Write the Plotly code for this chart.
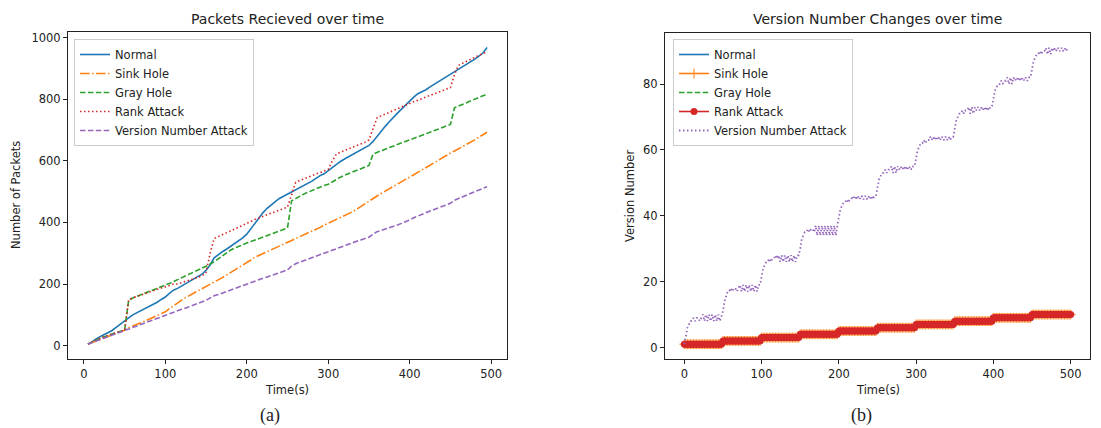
import plotly.graph_objects as go

W, H = 1101, 428
OFF = 8  # page body margin offset

# ---------------- Data: left chart (Packets received) ----------------
time_a = list(range(5, 496, 5))
normal_pk = [5, 12, 22, 30, 36, 43, 50, 60, 71, 80, 90, 100, 107, 114, 121, 127, 133, 141, 150, 158,
             170, 180, 186, 194, 202, 209, 216, 224, 232, 245, 262, 285, 296, 305, 313, 322, 331, 340, 350, 362,
             380, 400, 417, 432, 446, 458, 468, 478, 485, 492, 499, 505, 512, 519, 526, 534, 543, 552, 558, 568,
             580, 590, 598, 606, 613, 620, 628, 636, 643, 650, 663, 680, 696, 712, 727, 742, 755, 768, 782, 795,
             807, 818, 824, 831, 840, 848, 856, 866, 873, 880, 888, 898, 906, 914, 922, 930, 940, 950, 968]
sink_pk = [5, 10, 15, 20, 25, 30, 35, 40, 45, 50, 58, 63, 68, 74, 80, 86, 92, 98, 104, 110,
           120, 130, 140, 148, 156, 164, 171, 178, 185, 192, 198, 205, 213, 221, 229, 237, 245, 253, 260, 268,
           278, 287, 293, 298, 304, 310, 316, 322, 328, 334, 340, 346, 352, 358, 364, 370, 377, 384, 391, 398,
           404, 410, 416, 422, 428, 435, 443, 452, 461, 470, 478, 486, 494, 502, 510, 518, 526, 533, 540, 547,
           555, 563, 571, 579, 587, 595, 602, 609, 617, 625, 632, 639, 646, 653, 660, 668, 677, 685, 693]
gray_pk = [5, 12, 18, 24, 29, 34, 39, 43, 47, 50, 148, 155, 160, 165, 170, 175, 180, 185, 190, 195,
           202, 208, 214, 220, 227, 233, 240, 246, 252, 258, 265, 272, 282, 292, 300, 310, 317, 323, 328, 333,
           338, 343, 348, 353, 358, 363, 367, 372, 377, 382, 470, 478, 485, 492, 498, 504, 510, 516, 520, 524,
           532, 540, 547, 553, 558, 563, 568, 573, 578, 585, 622, 628, 633, 638, 643, 648, 653, 658, 663, 668,
           673, 678, 683, 688, 693, 698, 703, 708, 713, 718, 772, 778, 784, 790, 796, 801, 806, 811, 816]
rank_pk = [5, 12, 18, 24, 29, 34, 39, 43, 47, 50, 148, 155, 160, 165, 170, 175, 179, 183, 187, 190,
           195, 200, 200, 205, 208, 213, 218, 222, 226, 238, 300, 348, 354, 360, 366, 372, 378, 383, 390, 395,
           403, 410, 415, 420, 425, 430, 435, 440, 445, 450, 490, 530, 536, 542, 547, 552, 557, 562, 567, 572,
           600, 622, 628, 633, 638, 645, 650, 655, 660, 668, 705, 740, 746, 752, 758, 764, 770, 776, 781, 787,
           792, 797, 802, 807, 812, 817, 822, 827, 832, 838, 880, 910, 917, 924, 930, 936, 942, 948, 955]
version_pk = [5, 10, 15, 20, 25, 30, 35, 40, 45, 50, 55, 60, 65, 70, 75, 80, 85, 90, 95, 100,
              104, 109, 113, 118, 122, 127, 131, 136, 140, 147, 155, 162, 166, 171, 175, 180, 185, 190, 195, 200,
              205, 210, 214, 219, 223, 228, 232, 237, 241, 246, 258, 266, 271, 276, 281, 286, 291, 296, 300, 305,
              310, 316, 321, 326, 331, 335, 339, 343, 347, 352, 362, 370, 374, 378, 383, 387, 392, 397, 402, 408,
              415, 421, 427, 432, 437, 442, 447, 452, 457, 462, 472, 478, 484, 490, 495, 500, 505, 510, 516]

# ---------------- Data: right chart (Version number) ----------------
time_b = list(range(0, 501, 2))
version_steps = ([1] * 25 + [2] * 25 + [3] * 25 + [4] * 25 + [5] * 25 +
                 [6] * 25 + [7] * 25 + [8] * 25 + [9] * 25 + [10] * 26)
time_vn = list(range(0, 497, 2))
version_attack_vn = [
    1, 4, 6, 7, 8, 8, 9, 8, 9, 9, 8, 9, 10, 8, 10, 8, 10, 8, 10, 8, 10, 8, 10, 8, 10,
    11, 14, 16, 17, 17, 18, 17, 18, 18, 17, 18, 19, 17, 19, 17, 19, 17, 19, 17, 19, 17, 19, 17, 19, 19,
    21, 24, 25, 26, 26, 27, 26, 27, 27, 28, 27, 28, 26, 28, 26, 28, 26, 28, 26, 28, 26, 28, 26, 28, 28,
    30, 33, 34, 35, 35, 36, 35, 36, 36, 35, 37, 34, 37, 34, 37, 34, 37, 34, 37, 34, 37, 34, 37, 34, 37,
    40, 42, 43, 44, 44, 45, 44, 45, 45, 46, 45, 46, 45, 46, 45, 46, 45, 46, 45, 46, 45, 46, 45, 46, 46,
    49, 51, 52, 53, 53, 54, 53, 54, 54, 55, 53, 55, 53, 55, 54, 55, 54, 55, 54, 55, 54, 55, 54, 55, 55,
    58, 60, 61, 62, 62, 63, 62, 63, 63, 64, 63, 64, 63, 64, 63, 64, 63, 64, 63, 64, 63, 64, 63, 64, 64,
    67, 69, 70, 71, 71, 72, 71, 72, 72, 73, 71, 73, 71, 73, 72, 73, 72, 73, 72, 73, 72, 73, 72, 73, 73,
    76, 78, 79, 80, 80, 81, 80, 81, 81, 82, 80, 82, 80, 82, 81, 82, 81, 82, 81, 82, 81, 82, 81, 82, 82,
    85, 87, 88, 89, 89, 90, 89, 90, 90, 91, 89, 91, 89, 91, 90, 91, 90, 91, 90, 91, 90, 91, 90, 91]

series_names = ["Normal", "Sink Hole", "Gray Hole", "Rank Attack", "Version Number Attack"]
colors = ["#1f77b4", "#ff7f0e", "#2ca02c", "#d62728", "#9467bd"]
titles = ["Packets Recieved over time", "Version Number Changes over time"]
x_ticks = [0, 100, 200, 300, 400, 500]
y_ticks_a = [0, 200, 400, 600, 800, 1000]
y_ticks_b = [0, 20, 40, 60, 80]

FONT = "DejaVu Sans"
DASH = "5.5px,2.4px"
DASHDOT = "9.6px,2.4px,1.5px,2.4px"
DOT = "1.5px,2.5px"


def px(x):
    return (x - OFF) / W


def py(y):
    return 1 - (y - OFF) / H


fig = go.Figure()

# Left chart traces
left_vals = [normal_pk, sink_pk, gray_pk, rank_pk, version_pk]
left_dash = ["solid", DASHDOT, DASH, DOT, DASH]
for name, vals, c, d in zip(series_names, left_vals, colors, left_dash):
    fig.add_trace(go.Scatter(x=time_a, y=vals, name=name, mode="lines",
                             line=dict(color=c, width=1.6, dash=d),
                             xaxis="x", yaxis="y", legend="legend"))

# Right chart traces
fig.add_trace(go.Scatter(x=time_b, y=version_steps, name="Normal", mode="lines",
                         line=dict(color=colors[0], width=1.6), xaxis="x2", yaxis="y2", legend="legend2"))
fig.add_trace(go.Scatter(x=time_b, y=version_steps, name="Sink Hole", mode="lines+markers",
                         line=dict(color=colors[1], width=1.6),
                         marker=dict(symbol="cross-thin", size=7, line=dict(color=colors[1], width=1)),
                         xaxis="x2", yaxis="y2", legend="legend2"))
fig.add_trace(go.Scatter(x=time_b, y=version_steps, name="Gray Hole", mode="lines",
                         line=dict(color=colors[2], width=1.6, dash=DASH), xaxis="x2", yaxis="y2", legend="legend2"))
fig.add_trace(go.Scatter(x=time_b, y=version_steps, name="Rank Attack", mode="lines+markers",
                         line=dict(color=colors[3], width=1.6),
                         marker=dict(symbol="circle", size=7, color=colors[3]),
                         xaxis="x2", yaxis="y2", legend="legend2"))
fig.add_trace(go.Scatter(x=time_vn, y=version_attack_vn, name="Version Number Attack", mode="lines",
                         line=dict(color=colors[4], width=1.8, dash=DOT), xaxis="x2", yaxis="y2", legend="legend2"))

axis_common = dict(showline=True, mirror=True, linecolor="#222", linewidth=1, ticks="outside",
                   ticklen=4, tickcolor="#222", showgrid=False, zeroline=False,
                   tickfont=dict(family=FONT, size=11.5, color="#222"))

fig.update_layout(
    xaxis=dict(domain=[px(68), px(507)], range=[-19.5, 519.5], tickvals=x_ticks, anchor="y", **axis_common),
    yaxis=dict(domain=[py(359), py(32)], range=[-43.3, 1018.3], tickvals=y_ticks_a, anchor="x", **axis_common),
    xaxis2=dict(domain=[px(665), px(1090)], range=[-25, 525], tickvals=x_ticks, anchor="y2", **axis_common),
    yaxis2=dict(domain=[py(359), py(33)], range=[-3.5, 95.5], tickvals=y_ticks_b, anchor="x2", **axis_common),
)

legend_common = dict(bgcolor="rgba(255,255,255,0.8)", bordercolor="#cccccc", borderwidth=1,
                     font=dict(family=FONT, size=11.5, color="#222"), xanchor="left", yanchor="top",
                     tracegroupgap=0, itemwidth=30)
fig.update_layout(
    legend=dict(x=px(74), y=py(39), **legend_common),
    legend2=dict(x=px(673), y=py(39), **legend_common),
)

annotations = [
    dict(text=titles[0], x=px(287.5), y=py(19), font=dict(size=14)),
    dict(text=titles[1], x=px(877.5), y=py(19), font=dict(size=14)),
    dict(text="Time(s)", x=px(287.5), y=py(390), font=dict(size=11.5)),
    dict(text="Time(s)", x=px(877.5), y=py(390), font=dict(size=11.5)),
    dict(text="Number of Packets", x=px(16), y=py(195), textangle=-90, font=dict(size=11.5)),
    dict(text="Version Number", x=px(630), y=py(196), textangle=-90, font=dict(size=11.5)),
    dict(text="(a)", x=px(270), y=py(415), font=dict(size=18, family="Liberation Serif")),
    dict(text="(b)", x=px(861), y=py(415), font=dict(size=18, family="Liberation Serif")),
]
for a in annotations:
    f = dict(family=FONT, color="#222")
    f.update(a.pop("font"))
    fig.add_annotation(xref="paper", yref="paper", showarrow=False, xanchor="center", yanchor="middle",
                       font=f, **a)

fig.update_layout(width=W, height=H, margin=dict(l=0, r=0, t=0, b=0),
                  paper_bgcolor="white", plot_bgcolor="white", showlegend=True)

fig.write_html("out.html")
